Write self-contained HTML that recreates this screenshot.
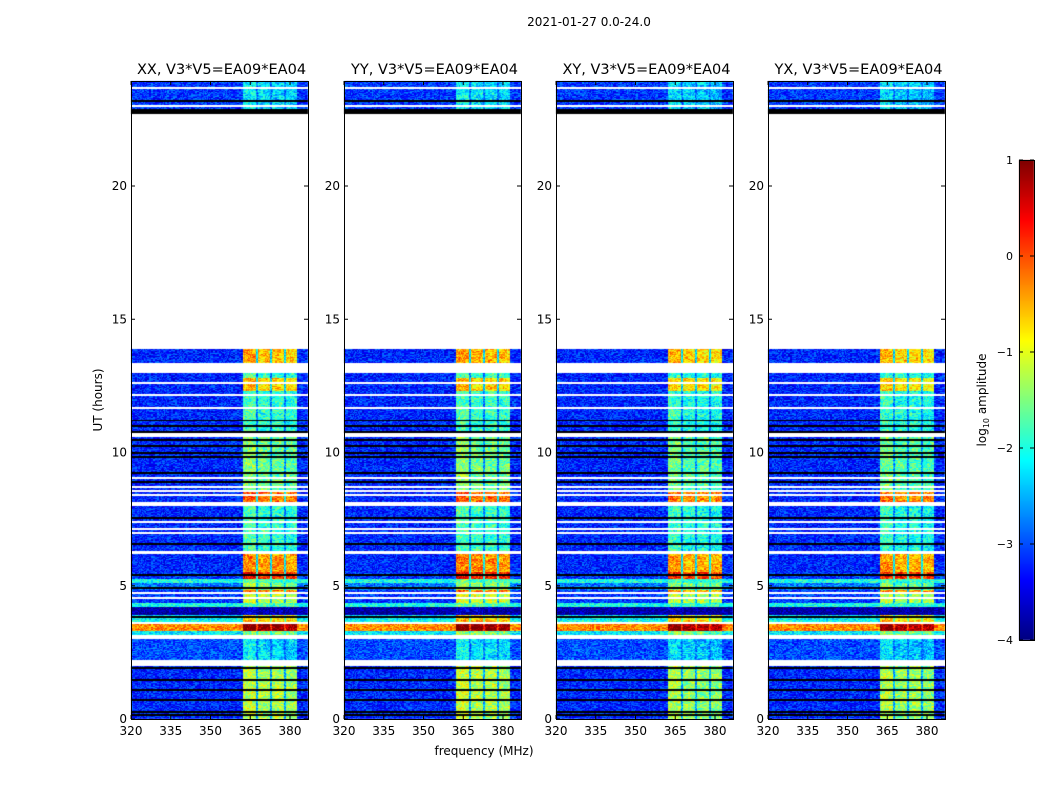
<!DOCTYPE html>
<html><head><meta charset="utf-8">
<style>
body{margin:0;background:#fff;width:1050px;height:800px;overflow:hidden;position:relative;font-family:"DejaVu Sans","Liberation Sans",sans-serif;}
canvas{position:absolute;left:0;top:0;}
svg{position:absolute;left:0;top:0;font-family:"DejaVu Sans","Liberation Sans",sans-serif;}
</style></head>
<body>
<canvas id="cv" width="1050" height="800"></canvas>
<svg id="sv" width="1050" height="800"></svg>
<script>
// ---- data ----
const panelTitles = ["XX, V3*V5=EA09*EA04","YY, V3*V5=EA09*EA04","XY, V3*V5=EA09*EA04","YX, V3*V5=EA09*EA04"];
const panelOffset = [0, 0.05, -0.1, -0.1];
const xTicks = [320,335,350,365,380];
const yTicks = [0,5,10,15,20];
const cbTicks = [1,0,-1,-2,-3,-4];
// segments: [startHour, endHour, type, backgroundLevel, bandLevel]
const segStart = [0,2.0,2.2,3.0,3.15,3.3,3.55,3.7,3.9,4.2,4.35,4.7,4.85,5.1,5.25,5.5,6.2,6.3,8.0,8.15,8.5,10.6,10.7,12.3,12.8,13.0,13.3,13.9,22.7,22.9];
const segEnd   = [2.0,2.2,3.0,3.15,3.3,3.55,3.7,3.9,4.2,4.35,4.7,4.85,5.1,5.25,5.5,6.2,6.3,8.0,8.15,8.5,10.6,10.7,12.3,12.8,13.0,13.3,13.9,22.7,22.9,24];
const segType  = ["d","w","d","w","d","d","d","d","d","d","d","d","d","d","d","d","w","d","w","d","d","w","d","d","d","w","d","w","k","d"];
const segBg    = [-3.2,0,-3.0,0,-2.2,-0.3,-2.0,-2.2,-3.8,-2.0,-3.1,-3.1,-2.8,-2.0,-3.1,-3.2,0,-3.2,0,-3.2,-3.2,0,-3.2,-3.2,-3.2,0,-3.2,0,0,-3.1];
const segBand  = [-1.3,0,-2.3,0,-1.5,0.9,-0.6,-0.8,-3.8,-1.8,-1.2,-0.3,-1.5,-1.8,0.2,-0.4,0,-1.9,0,-0.2,-1.6,0,-1.9,-0.7,-1.9,0,-0.6,0,0,-2.3];
const whiteLines = [13.32,13.1,12.6,12.16,11.67,10.69,9.04,8.7,8.56,8.4,7.4,7.13,6.98,4.73,4.54,3.6,23.0,23.68];
const blackLines = [11.2,11.0,10.77,10.47,10.24,9.98,9.83,9.23,8.9,8.1,7.54,6.57,5.4,4.92,3.83,1.91,1.46,1.09,0.71,0.26,0.15,23.19];
const subBandLo = [362.3,367.9,373.2,378.5];
const subBandHi = [367.2,372.5,377.7,382.6];
const subBandOff = [0.15,0,0,-0.05];

// ---- geometry ----
const panelX = [131,344,556,768];
const PW = 177, Y0 = 719, YTOP = 81;
const pxPerHour = (719-186)/20, pxPerMHz = (290-131)/60;
function yOf(h){return Y0 - h*pxPerHour;}
function xOf(p,f){return panelX[p] + (f-320)*pxPerMHz;}

function jet(v){
  function c(x){return Math.max(0,Math.min(1,x));}
  const r=c(1.5-Math.abs(4*v-3)), g=c(1.5-Math.abs(4*v-2)), b=c(1.5-Math.abs(4*v-1));
  return [r*255|0,g*255|0,b*255|0];
}
function hash(a,b,c){let h=(a*374761393+b*668265263+c*1442695040)|0;h=(h^(h>>>13))*1274126177|0;h=h^(h>>>16);return (h>>>0)/4294967296;}

const cv=document.getElementById('cv'),ctx=cv.getContext('2d');
const img=ctx.createImageData(1050,800);
for(let p=0;p<4;p++){
  for(let y=YTOP;y<Y0;y++){
    const h=(Y0-(y+0.5))/pxPerHour;
    let si=segStart.findIndex((s,i)=>h>=s&&h<segEnd[i]); if(si<0) si=segStart.length-1;
    let type=segType[si];
    if(type==="d"){
      if(whiteLines.some(l=>Math.abs(h-l)<0.03)) type="w";
      else if(blackLines.some(l=>Math.abs(h-l)<0.03)) type="k";
    }
    for(let x=panelX[p];x<panelX[p]+PW;x++){
      const idx=(y*1050+x)*4;
      let col;
      if(type==="w") col=[255,255,255];
      else if(type==="k") col=[0,0,0];
      else{
        const f=320+(x-panelX[p]+0.5)/pxPerMHz;
        let lv=segBg[si];
        let inBand=false;
        for(let k=0;k<4;k++) if(f>=subBandLo[k]&&f<subBandHi[k]){lv=segBand[si]+subBandOff[k]+panelOffset[p];inBand=true;}
        if(!inBand&&f>=362.3&&f<382.6) lv=(segBg[si]*0.65+segBand[si]*0.35);
        const n=hash(Math.floor(f*1.2),Math.floor(h*40),p*7+Math.floor((x-panelX[p])/2));
        const n2=hash(Math.floor(f*0.7),Math.floor(h*10),p+99);
        lv+= (n-0.5)*0.9 + (inBand?(n2-0.5)*0.4:0);
        const v=Math.max(0,Math.min(1,(lv+4)/5));
        col=jet(v);
      }
      img.data[idx]=col[0];img.data[idx+1]=col[1];img.data[idx+2]=col[2];img.data[idx+3]=255;
    }
  }
}
for(let y=160;y<640;y++){const v=(640-y)/480;const c=jet(v);
  for(let x=1019;x<1034;x++){const i=(y*1050+x)*4;img.data[i]=c[0];img.data[i+1]=c[1];img.data[i+2]=c[2];img.data[i+3]=255;}}
ctx.putImageData(img,0,0);

// ---- overlay ----
const sv=document.getElementById('sv'),NS="http://www.w3.org/2000/svg";
function el(tag,attrs,text){const e=document.createElementNS(NS,tag);for(const k in attrs)e.setAttribute(k,attrs[k]);if(text!==undefined)e.textContent=text;sv.appendChild(e);return e;}
const sup=el('text',{x:589,y:26,'text-anchor':'middle','font-size':12,fill:'#000'},"2021-01-27 0.0-24.0");


for(let p=0;p<4;p++){
  const fr=el('rect',{x:panelX[p]+0.5,y:YTOP+0.5,width:PW,height:Y0-YTOP,fill:'none',stroke:'#000','stroke-width':1});
  
  
  const t=el('text',{x:panelX[p]+PW/2+2,y:74,'text-anchor':'middle','font-size':14.5,fill:'#000'},panelTitles[p]);
  
  
  xTicks.forEach(v=>{const x=xOf(p,v);
    el('line',{x1:x,y1:Y0,x2:x,y2:Y0-4,stroke:'#000'});el('line',{x1:x,y1:YTOP,x2:x,y2:YTOP+4,stroke:'#000'});
    const lb=el('text',{x:x,y:735,'text-anchor':'middle','font-size':12,fill:'#000'},String(v));
    
    
  });
  yTicks.forEach(v=>{const y=yOf(v);
    el('line',{x1:panelX[p],y1:y,x2:panelX[p]+4,y2:y,stroke:'#000'});el('line',{x1:panelX[p]+PW,y1:y,x2:panelX[p]+PW-4,y2:y,stroke:'#000'});
    const lb=el('text',{x:panelX[p]-4,y:y+4,'text-anchor':'end','font-size':12,fill:'#000'},String(v));
    
    
  });
}
const xt=el('text',{x:484,y:755,'text-anchor':'middle','font-size':12,fill:'#000'},"frequency (MHz)");


const yt=el('text',{x:102,y:400,'text-anchor':'middle','font-size':12,fill:'#000',transform:'rotate(-90 102 400)'},"UT (hours)");


const cbf=el('rect',{x:1019.5,y:160.5,width:15,height:480,fill:'none',stroke:'#000'});


cbTicks.forEach(v=>{const y=640-(v+4)*96;
  el('line',{x1:1019,y1:y,x2:1023,y2:y,stroke:'#000'});el('line',{x1:1034,y1:y,x2:1030,y2:y,stroke:'#000'});
  const lb=el('text',{x:1013,y:y+4,'text-anchor':'end','font-size':11,fill:'#000'},(v<0?"\u2212":"")+Math.abs(v));
  
  
});
const cl=el('text',{x:986,y:400,'text-anchor':'middle','font-size':12,fill:'#000',transform:'rotate(-90 986 400)'});


cl.innerHTML='log<tspan font-size="8" dy="3">10</tspan><tspan dy="-3"> amplitude</tspan>';
</script>
</body></html>
